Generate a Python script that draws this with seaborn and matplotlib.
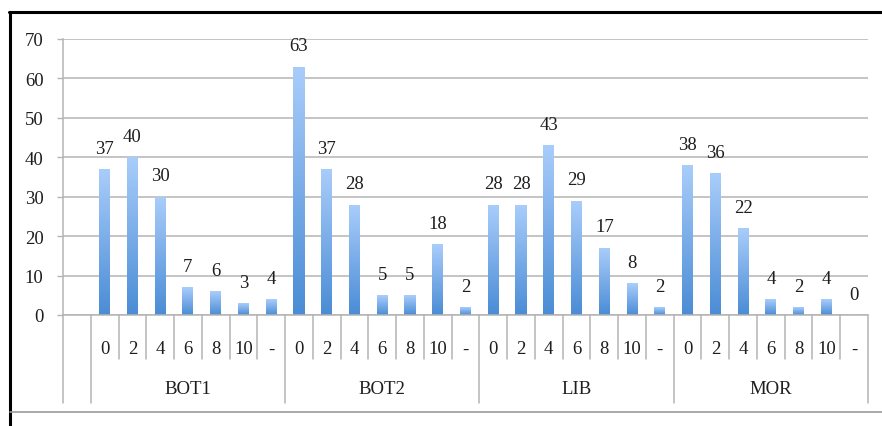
import numpy as np
import pandas as pd
import matplotlib
matplotlib.use("Agg")
import matplotlib.pyplot as plt
from matplotlib.colors import LinearSegmentedColormap
from matplotlib.lines import Line2D
import matplotlib.transforms as mtransforms
import seaborn as sns

# Groups and sub-categories along the two-level category axis
groups = ["BOT1", "BOT2", "LIB", "MOR"]
subcats = ["0", "2", "4", "6", "8", "10", "-"]

# Counts per group, one value per sub-category
bot1 = [37, 40, 30, 7, 6, 3, 4]
bot2 = [63, 37, 28, 5, 5, 18, 2]
lib = [28, 28, 43, 29, 17, 8, 2]
mor = [38, 36, 22, 4, 2, 4, 0]

yticks = [0, 10, 20, 30, 40, 50, 60, 70]

series = {"BOT1": bot1, "BOT2": bot2, "LIB": lib, "MOR": mor}
rows = []
for g in groups:
    for s, v in zip(subcats, series[g]):
        rows.append({"key": f"{g}|{s}", "group": g, "sub": s, "count": v})
df = pd.DataFrame(rows)
# leading empty slot on the category axis
order = [""] + list(df["key"])

sns.set_theme(style="white")
plt.rcParams["font.family"] = ["Liberation Serif", "DejaVu Serif"]
TXT = "#1e1e1e"
FS = 13.5

W, H = 882, 427
fig = plt.figure(figsize=(W / 100, H / 100), dpi=100)
ax_l, ax_r, ax_t, ax_b = 63, 868, 40, 316
ax = fig.add_axes([ax_l / W, 1 - ax_b / H, (ax_r - ax_l) / W, (ax_b - ax_t) / H])

sns.barplot(data=df, x="key", y="count", order=order, color="#5b9be0",
            width=0.4, ax=ax, errorbar=None, saturation=1)

XMIN, XMAX, YMIN, YMAX = -0.5, len(order) - 0.5, 0, 70
ax.set_xlim(XMIN, XMAX)
ax.set_ylim(YMIN, YMAX)
ax.set_yticks(yticks)
ax.set_yticklabels([str(t) for t in yticks], fontsize=FS, color=TXT)
ax.set_xlabel("")
ax.set_ylabel("")
ax.set_xticks([])

# horizontal gridlines and axis styling
ax.set_axisbelow(True)
ax.yaxis.grid(True, color="#b4b4b4", linewidth=1.1)
for side in ["top", "right", "bottom"]:
    ax.spines[side].set_visible(False)
ax.spines["left"].set_color("#b4b4b4")
ax.spines["left"].set_linewidth(1.1)
ax.tick_params(axis="y", which="major", left=True, length=4, width=1,
               color="#b4b4b4", pad=10)

# vertical gradient fill on every bar (light on top, darker at the base),
# painted as one pixel-aligned RGBA layer over the seaborn bars
cmap = LinearSegmentedColormap.from_list("bar", ["#4a8cd5", "#a9cdfb"], N=512)
nx, ny = ax_r - ax_l, ax_b - ax_t
xs = XMIN + (np.arange(nx) + 0.5) / nx * (XMAX - XMIN)
ys = YMIN + (np.arange(ny) + 0.5) / ny * (YMAX - YMIN)
layer = np.zeros((ny, nx, 4))
for bar in ax.patches:
    x0, y0 = bar.get_x(), bar.get_y()
    w, h = bar.get_width(), bar.get_height()
    if h <= 0:
        continue
    bar.set_facecolor("none")
    bar.set_edgecolor("none")
    cols = (xs >= x0) & (xs <= x0 + w)
    rws = (ys >= y0) & (ys <= y0 + h)
    t = (ys[rws] - y0) / h
    layer[np.ix_(rws, cols)] = cmap(t)[:, None, :]
ax.imshow(layer, origin="lower", aspect="auto", extent=[XMIN, XMAX, YMIN, YMAX],
          zorder=2, interpolation="nearest")
ax.set_xlim(XMIN, XMAX)
ax.set_ylim(YMIN, YMAX)

# value labels above the bars
for cont in ax.containers:
    ax.bar_label(cont, labels=[f"{v:g}" for v in cont.datavalues],
                 padding=9, fontsize=FS, color=TXT)

# two-level category axis below the plot area
trans = mtransforms.blended_transform_factory(ax.transData, ax.transAxes)
def ay(py):
    return (ax_b - py) / (ax_b - ax_t)

line_kw = dict(color="#b4b4b4", linewidth=1.1, clip_on=False, transform=trans)
ax.add_line(Line2D([XMIN, XMAX], [0, 0], **line_kw))
n = len(order)
for i in range(n + 1):
    xb = i - 0.5
    is_group_edge = (i <= 1) or ((i - 1) % len(subcats) == 0)
    bottom = ay(404) if is_group_edge else ay(360)
    ax.add_line(Line2D([xb, xb], [0, bottom], **line_kw))

for i, key in enumerate(order):
    if not key:
        continue
    sub = key.split("|")[1]
    ax.text(i, ay(350), sub, transform=trans, ha="center", va="center",
            fontsize=FS, color=TXT)
for gi, g in enumerate(groups):
    start = 1 + gi * len(subcats)
    center = start + (len(subcats) - 1) / 2
    ax.text(center, ay(389), g, transform=trans, ha="center", va="center",
            fontsize=FS, color=TXT)

# chart frame
def fx(px):
    return px / W
def fy(py):
    return 1 - py / H
fig.add_artist(Line2D([fx(9), fx(W)], [fy(13), fy(13)], color="black",
                      linewidth=2.2, transform=fig.transFigure))
fig.add_artist(Line2D([fx(10), fx(10)], [fy(13), fy(H)], color="black",
                      linewidth=2.2, transform=fig.transFigure))
fig.add_artist(Line2D([fx(10), fx(W)], [fy(413), fy(413)], color="#9a9a9a",
                      linewidth=1.2, transform=fig.transFigure))

fig.savefig("out.png", dpi=100, facecolor="white")
